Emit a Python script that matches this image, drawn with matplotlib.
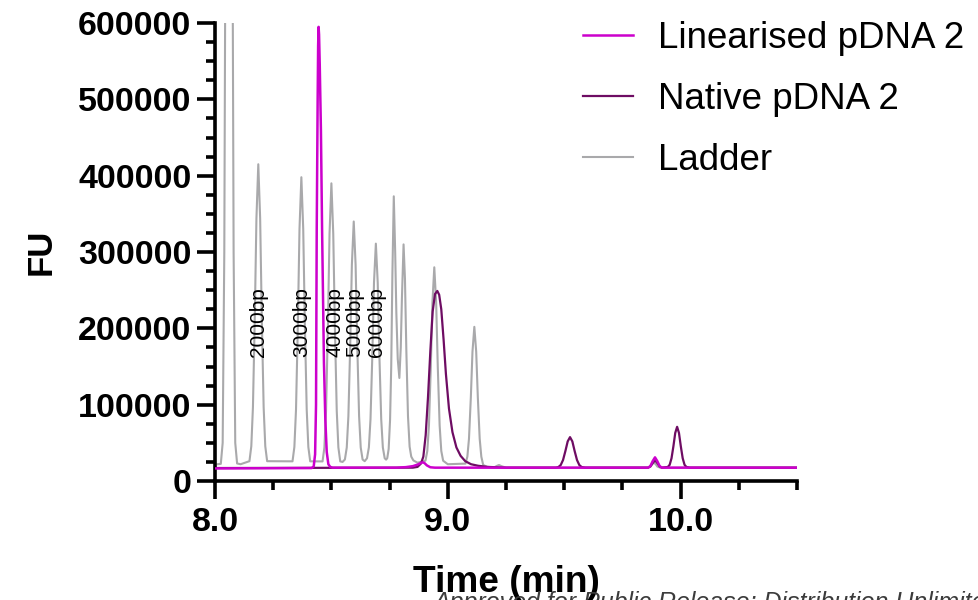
import matplotlib
matplotlib.use("Agg")
import matplotlib.pyplot as plt
from matplotlib.ticker import MultipleLocator

plt.rcParams['font.family'] = ['Liberation Sans', 'DejaVu Sans']

# electropherogram traces, time in min, signal in FU
ladder_t = [8.010, 8.025, 8.033, 8.040, 8.048, 8.060, 8.072, 8.080, 8.087, 8.095, 8.110,
            8.148, 8.156, 8.163, 8.171, 8.178, 8.186, 8.194, 8.201, 8.209, 8.216, 8.224,
            8.333, 8.341, 8.348, 8.356, 8.363, 8.371, 8.379, 8.386, 8.394, 8.401, 8.409,
            8.462, 8.470, 8.477, 8.485, 8.492, 8.500, 8.508, 8.515, 8.523, 8.530, 8.538,
            8.548,
            8.558, 8.566, 8.573, 8.581, 8.588, 8.596, 8.604, 8.611, 8.619, 8.626, 8.634,
            8.643,
            8.653, 8.661, 8.668, 8.676, 8.683, 8.691, 8.699, 8.706, 8.714, 8.721, 8.729,
            8.735,
            8.740, 8.746, 8.752, 8.757, 8.762, 8.768, 8.774, 8.779, 8.785, 8.792,
            8.798, 8.803, 8.810, 8.816, 8.822, 8.829, 8.836, 8.843, 8.852, 8.870,
            8.904, 8.912, 8.919, 8.927, 8.934, 8.942, 8.950, 8.957, 8.965, 8.972, 8.980,
            9.000,
            9.076, 9.084, 9.091, 9.099, 9.106, 9.114, 9.122, 9.129, 9.137, 9.144, 9.152,
            9.170, 9.200, 9.212, 9.220, 9.230, 9.250, 9.300,
            9.860, 9.870, 9.878, 9.885, 9.893, 9.900, 9.912, 10.500]
ladder_fu = [22000, 22500, 50000, 300000, 1000000, 1600000, 1000000, 300000, 50000, 23000, 22000,
             26000, 45600, 96700, 214600, 344000, 415000, 344000, 214600, 96700, 45600, 26000,
             25800, 44600, 93400, 206200, 330300, 398000, 330300, 206200, 93400, 44600, 25800,
             25700, 44100, 91900, 202300, 323800, 390000, 323800, 202300, 91900, 44100, 25700,
             25000,
             28200, 43900, 84900, 179400, 283300, 340000, 283300, 179400, 84900, 43900, 28200,
             26000,
             29800, 44000, 81000, 166200, 259900, 311000, 259900, 166200, 81000, 44000, 29800,
             28000,
             30000, 42000, 80000, 150000, 270000, 373000, 300000, 220000, 160000, 135000,
             175000, 240000, 310000, 265000, 170000, 85000, 45000, 32000, 27000, 24000,
             26600, 39400, 72600, 149400, 233900, 280000, 233900, 149400, 72600, 39400, 26600,
             22000,
             22800, 31900, 55400, 109700, 169400, 202000, 169400, 109700, 55400, 31900, 21000,
             18500, 18000, 20000, 21000, 19500, 17500, 17500,
             17500, 19000, 22000, 24000, 22000, 19000, 17500, 17500]

native_t = [8.000, 8.850, 8.870, 8.885, 8.895, 8.905, 8.915, 8.925, 8.935, 8.945,
            8.955, 8.963, 8.972, 8.982, 8.992, 9.005, 9.020, 9.037, 9.055, 9.075,
            9.100, 9.130, 9.170, 9.250,
            9.465, 9.475, 9.485, 9.495, 9.505, 9.515, 9.525, 9.535, 9.545, 9.555,
            9.565, 9.575, 9.590,
            9.860, 9.870, 9.880, 9.890, 9.900, 9.910, 9.920,
            9.945, 9.953, 9.961, 9.969, 9.977, 9.985, 9.993, 10.001, 10.009, 10.017,
            10.025, 10.040, 10.500]
native_fu = [17000, 17500, 18500, 23000, 32000, 60000, 110000, 170000, 222000, 245000,
             249000, 244000, 225000, 185000, 140000, 95000, 64000, 44000, 33000, 26000,
             22000, 20000, 18500, 17500,
             17500, 18300, 20900, 27500, 39100, 51900, 57500, 51900, 39100, 27500,
             20900, 18300, 17500,
             17500, 19000, 23500, 27000, 23500, 19000, 17500,
             18400, 21200, 29800, 45300, 63000, 71000, 63000, 45300, 29800, 21200,
             18400, 17500, 17500]

linear_t = [8.000, 8.415, 8.424, 8.430, 8.434, 8.437, 8.441, 8.443, 8.445, 8.447,
            8.450, 8.455, 8.460, 8.468, 8.474, 8.480, 8.487, 8.495, 8.505,
            8.780, 8.820, 8.850, 8.870, 8.885, 8.893, 8.900, 8.910, 8.925, 8.945,
            9.860, 9.870, 9.880, 9.890, 9.900, 9.910, 9.920, 10.500]
linear_fu = [16500, 17000, 19000, 35000, 100000, 330000, 500000, 570000, 595000, 585000,
             545000, 460000, 330000, 155000, 80000, 38000, 22000, 18500, 17500,
             17500, 18200, 19500, 21500, 23800, 24500, 23500, 20500, 18000, 17500,
             17500, 19500, 26000, 31000, 26000, 19500, 17500, 17500]

# ladder size markers
bp_labels = ['2000bp', '3000bp', '4000bp', '5000bp', '6000bp']
bp_times = [8.186, 8.372, 8.515, 8.598, 8.695]

fig = plt.figure(figsize=(9.79, 6.0), dpi=100)
ax = fig.add_axes([0.2196, 0.1983, 0.5945, 0.7633])

l_ladder, = ax.plot(ladder_t, ladder_fu, color='#a9a9ab', lw=1.5, zorder=1)
l_native, = ax.plot(native_t, native_fu, color='#6e0c63', lw=1.6, zorder=2)
l_linear, = ax.plot(linear_t, linear_fu, color='#cc00cc', lw=1.8, zorder=3)

for lab, t in zip(bp_labels, bp_times):
    ax.text(t, 163000, lab, rotation=90, ha='center', va='bottom',
            fontsize=15, color='black', zorder=4)

ax.set_xlim(8.0, 10.5)
ax.set_ylim(0, 600000)
ax.xaxis.set_major_locator(MultipleLocator(1.0))
ax.xaxis.set_minor_locator(MultipleLocator(0.25))
ax.yaxis.set_major_locator(MultipleLocator(100000))
ax.yaxis.set_minor_locator(MultipleLocator(25000))
ax.set_xticks([8.0, 9.0, 10.0], ['8.0', '9.0', '10.0'])

for s in ['top', 'right']:
    ax.spines[s].set_visible(False)
for s in ['left', 'bottom']:
    ax.spines[s].set_linewidth(2.6)

ax.tick_params(which='major', length=13, width=2.6, labelsize=24.5)
ax.tick_params(which='minor', length=6.5, width=2.6)
ax.tick_params(axis='x', which='major', pad=6)
ax.tick_params(axis='y', which='major', pad=4)
for lab in ax.get_xticklabels() + ax.get_yticklabels():
    lab.set_fontweight('bold')

ax.set_xlabel('Time (min)', fontsize=26.7, fontweight='bold')
ax.xaxis.set_label_coords(0.5, -0.183)
ax.set_ylabel('FU', fontsize=25, fontweight='bold')
ax.yaxis.set_label_coords(-0.271, 0.5)

fig.legend([l_linear, l_native, l_ladder],
           ['Linearised pDNA 2', 'Native pDNA 2', 'Ladder'],
           loc='upper left', bbox_to_anchor=(0.5955, 0.965), frameon=False,
           fontsize=26.5, borderpad=0, borderaxespad=0, handlelength=1.36,
           handletextpad=0.68, labelspacing=0.71)

fig.text(433 / 979, -0.017, 'Approved for Public Release; Distribution Unlimited',
         fontsize=18, style='italic', color='#3c3c3c', ha='left', va='baseline')

fig.savefig('out.png', dpi=100)
